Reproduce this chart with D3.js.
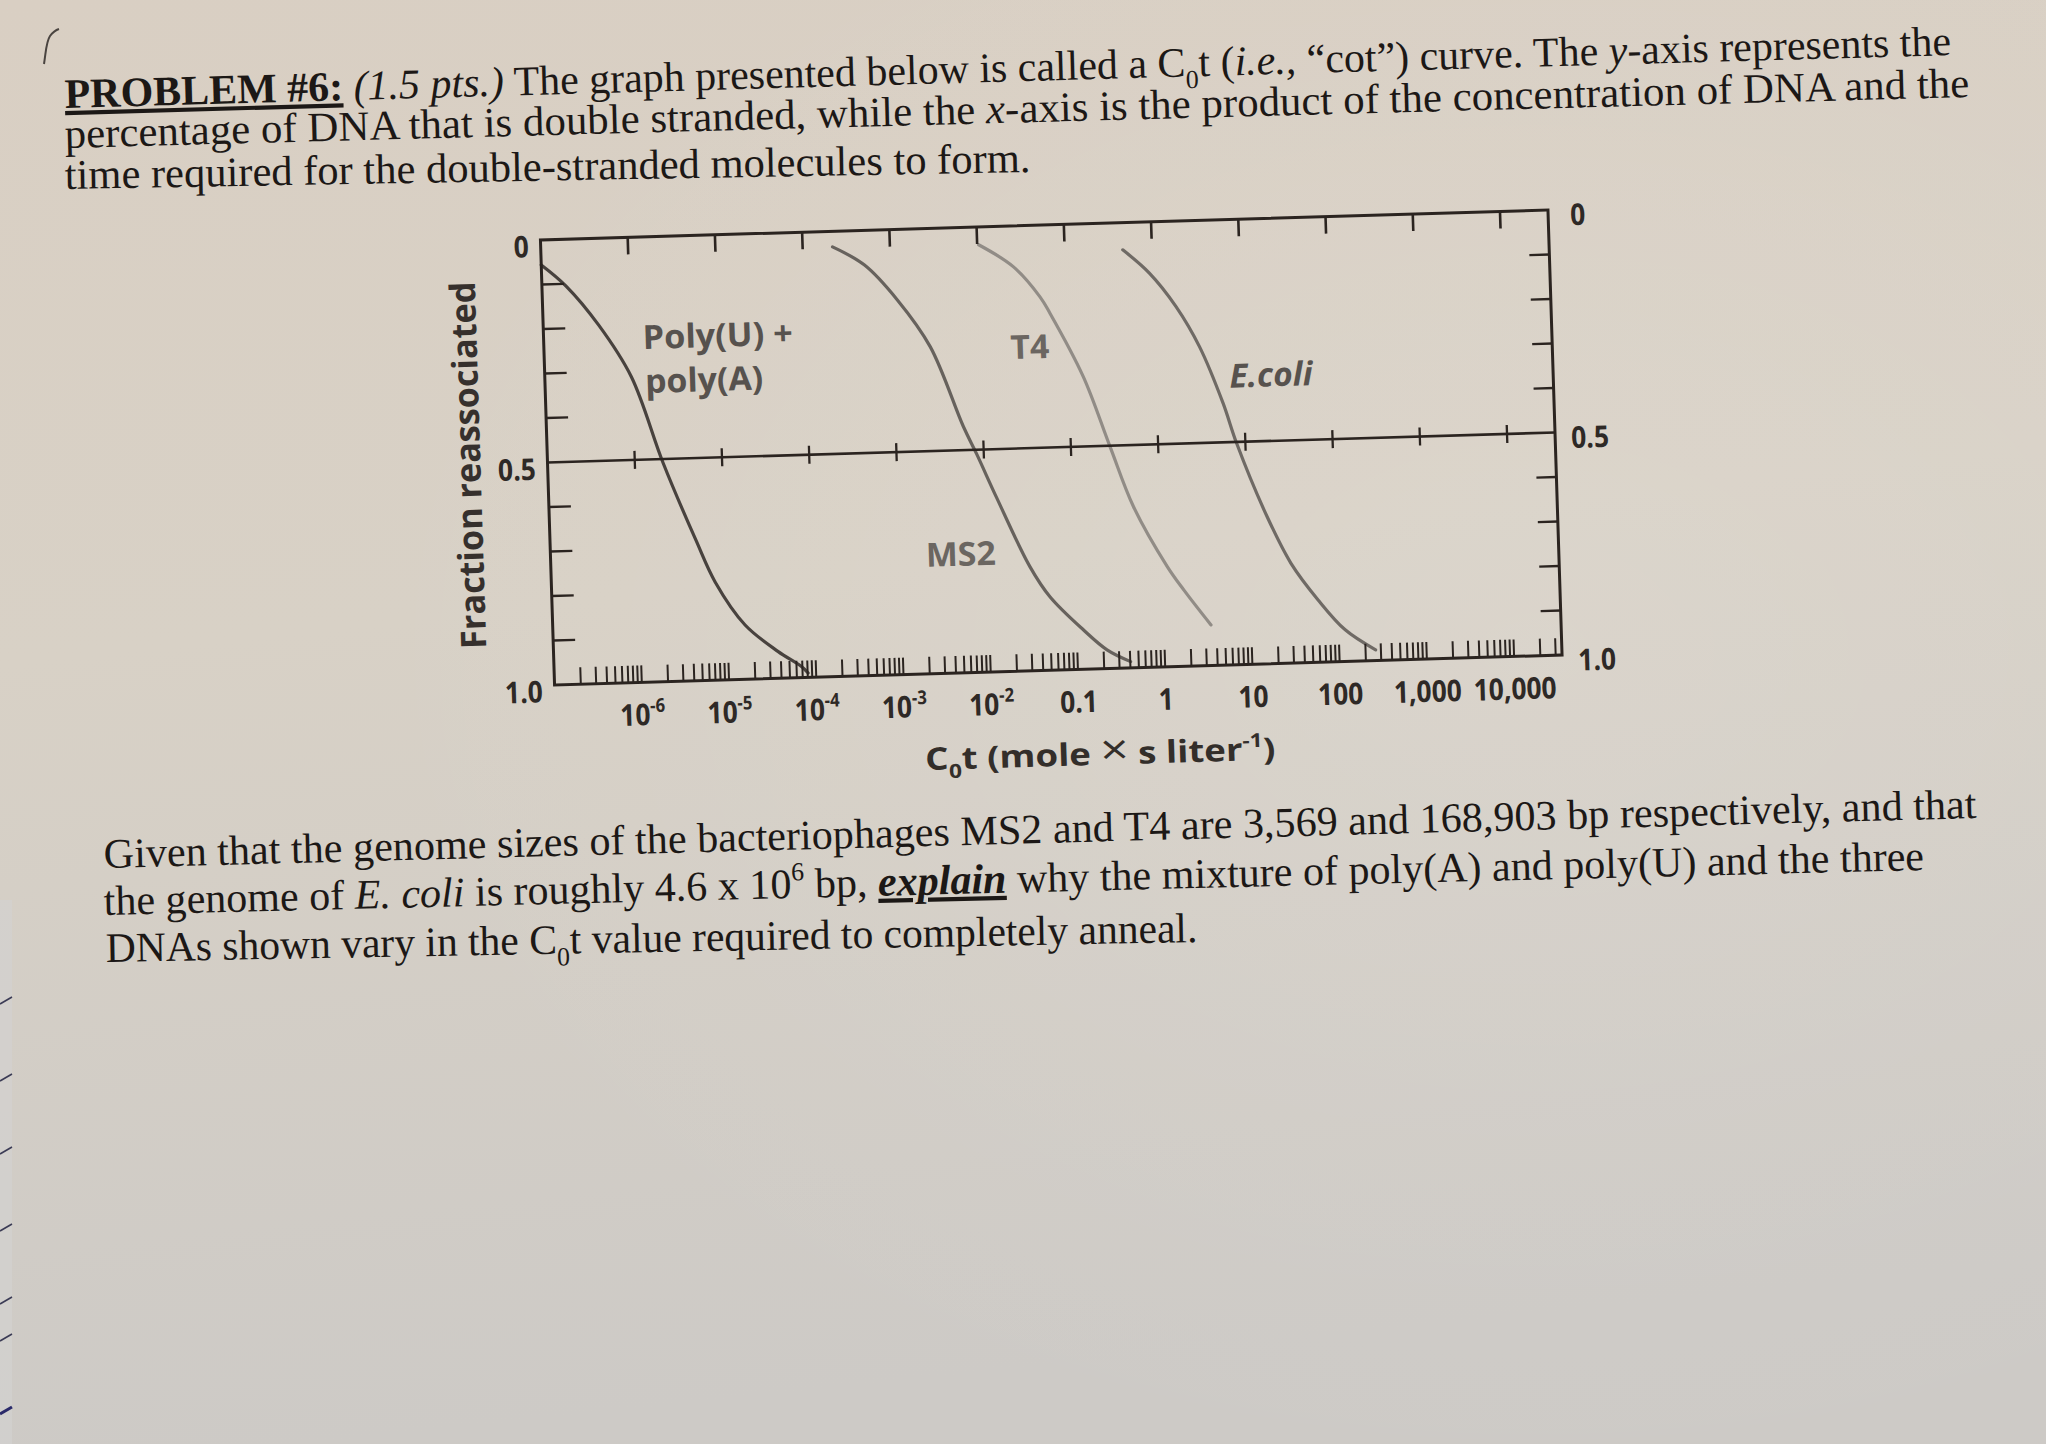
<!DOCTYPE html>
<html><head><meta charset="utf-8">
<script src="https://cdn.jsdelivr.net/npm/d3@7"></script>
<style>html,body{margin:0;padding:0;background:#d5cfc6;} svg{display:block}</style>
</head><body>
<svg id="page" width="2046" height="1444"></svg>
<script>
// ---------------- DATA ----------------
const xDomainExp = [-7, 4.55];                 // log10 limits of the Cot axis
const xTickValues = [1e-6,1e-5,1e-4,1e-3,1e-2,0.1,1,10,100,1000,10000];
const xTickBase   = ["10","10","10","10","10","0.1","1","10","100","1,000","10,000"];
const xTickSup    = ["-6","-5","-4","-3","-2","","","","","",""];
const yMinorTicks = [0.1,0.2,0.3,0.4,0.6,0.7,0.8,0.9];
const yLabelValues = [0, 0.5, 1];
const yLabelTexts  = ["0", "0.5", "1.0"];

const polyCot  = [1.0e-7, 1.89e-7, 4.33e-7, 9.8e-7, 2.12e-6, 4.71e-6, 7.55e-6, 1.6e-5, 3.75e-5, 6.84e-5, 8.1e-5];
const polyFrac = [0.056, 0.105, 0.195, 0.313, 0.51, 0.685, 0.78, 0.878, 0.94, 0.975, 0.99];

const ms2Cot   = [2.2e-4, 5.04e-4, 1.17e-3, 2.67e-3, 5.97e-3, 8.3e-3, 1.36e-2, 3.07e-2, 5.08e-2, 0.12, 0.219, 0.404];
const ms2Frac  = [0.035, 0.078, 0.159, 0.266, 0.447, 0.51, 0.61, 0.766, 0.835, 0.912, 0.958, 0.986];

const t4Cot    = [1.04e-2, 2.56e-2, 5.02e-2, 6.46e-2, 0.147, 0.281, 0.495, 1.15, 1.75, 3.47];
const t4Frac   = [0.04, 0.092, 0.161, 0.199, 0.343, 0.502, 0.638, 0.775, 0.829, 0.909];

const ecoliCot  = [0.463, 0.916, 1.80, 3.24, 5.74, 7.94, 16.7, 30.1, 59.7, 119, 261];
const ecoliFrac = [0.061, 0.115, 0.192, 0.284, 0.412, 0.503, 0.670, 0.776, 0.860, 0.929, 0.976];

const seriesNames  = ["Poly(U) + poly(A)", "MS2", "T4", "E.coli"];
const seriesColors = ["#48423e", "#67625d", "#918c86", "#6f6a65"];

// ---------------- PAGE ----------------
const svg = d3.select("#page");
const defs = svg.append("defs");
const grad = defs.append("linearGradient").attr("id","paper").attr("x1",0).attr("y1",0).attr("x2",0.15).attr("y2",1);
grad.append("stop").attr("offset","0%").attr("stop-color","#d9cfc3");
grad.append("stop").attr("offset","45%").attr("stop-color","#d8d1c6");
grad.append("stop").attr("offset","100%").attr("stop-color","#cdcac6");
svg.append("rect").attr("width",2046).attr("height",1444).attr("fill","url(#paper)");
const grad2 = defs.append("radialGradient").attr("id","glow").attr("cx",0.75).attr("cy",0.45).attr("r",0.6);
grad2.append("stop").attr("offset","0%").attr("stop-color","#fff").attr("stop-opacity",0.10);
grad2.append("stop").attr("offset","100%").attr("stop-color","#fff").attr("stop-opacity",0);
svg.append("rect").attr("width",2046).attr("height",1444).attr("fill","url(#glow)");

// left page edge strip with pen marks from the page underneath
svg.append("rect").attr("x",0).attr("y",900).attr("width",12).attr("height",544).attr("fill","#d3d2d0").attr("opacity",0.7);
[1000,1077,1150,1227,1300,1337,1410].forEach((yy,i)=>{
  svg.append("line").attr("x1",0).attr("y1",yy+4).attr("x2",12).attr("y2",yy-3)
    .attr("stroke", i===6 ? "#2a2a6a" : "#3b3b55").attr("stroke-width", i===6?3:1.6);
});
// small mark top-left
svg.append("path").attr("d","M44,64 C46,52 46,42 50,36 C53,32 56,30 59,29")
  .attr("fill","none").attr("stroke","#4a4440").attr("stroke-width",2);

// rich text helper
function richText(sel, segs, size){
  let shift = 0;
  segs.forEach(([t, st]) => {
    const f = (st||"").split(" ");
    const ts = sel.append("tspan").text(t);
    let target = 0;
    if (f.includes("sub")) target = size*0.28;
    if (f.includes("sup")) target = -size*0.42;
    if (target !== shift){ ts.attr("dy", target - shift); shift = target; }
    if (f.includes("sub") || f.includes("sup")) ts.attr("font-size", size*0.62);
    if (f.includes("big")) ts.attr("font-size", size*1.35).attr("font-weight","normal");
    if (f.includes("bold")) ts.attr("font-weight","bold");
    if (f.includes("ital")) ts.attr("font-style","italic");
    if (f.includes("ul")) ts.attr("text-decoration","underline");
    if (f.includes("sc")) ts.style("font-variant","small-caps");
  });
}
function placeLine(parent, segs, x0, y0, x1, y1, size, family, fill){
  const t = parent.append("text").attr("font-family", family).attr("font-size", size).attr("fill", fill);
  richText(t, segs, size);
  const w = t.node().getComputedTextLength();
  const L = Math.hypot(x1-x0, y1-y0);
  const ang = Math.atan2(y1-y0, x1-x0)*180/Math.PI;
  t.attr("transform", `translate(${x0},${y0}) rotate(${ang}) scale(${L/w},1)`);
  return t;
}

const serif = "'Liberation Serif','Times New Roman',serif";
const ink = "#1c1816";
const pageLines = [
  { segs: [["PROBLEM #6:","bold sc ul"],[" ",""],["(1.5 pts.)","ital"],[" The graph presented below is called a C",""],["0","sub"],["t (",""],["i.e.,","ital"],[" \u201ccot\u201d) curve. The ",""],["y","ital"],["-axis represents the",""]],
    p: [65,108,1952,55] },
  { segs: [["percentage of DNA that is double stranded, while the ",""],["x","ital"],["-axis is the product of the concentration of DNA and the",""]],
    p: [65,148,1970,97] },
  { segs: [["time required for the double-stranded molecules to form.",""]],
    p: [65,189,1031,172] },
  { segs: [["Given that the genome sizes of the bacteriophages MS2 and T4 are 3,569 and 168,903 bp respectively, and that",""]],
    p: [104,868,1977,818] },
  { segs: [["the genome of ",""],["E. coli","ital"],[" is roughly 4.6 x 10",""],["6","sup"],[" bp, ",""],["explain","bold ital ul"],[" why the mixture of poly(A) and poly(U) and the three",""]],
    p: [104,915,1925,870] },
  { segs: [["DNAs shown vary in the C",""],["0","sub"],["t value required to completely anneal.",""]],
    p: [106,962,1198,942] }
];
pageLines.forEach(l => placeLine(svg, l.segs, l.p[0], l.p[1], l.p[2], l.p[3], 42, serif, ink));

// ---------------- CHART ----------------
const W = 1007.5, H = 445;
const chart = svg.append("g").attr("transform","matrix(1,-0.02978,0.03169,1,540.45,240)");
const x = d3.scaleLog().domain([Math.pow(10,xDomainExp[0]), Math.pow(10,xDomainExp[1])]).range([0, W]);
const y = d3.scaleLinear().domain([0,1]).range([0, H]);
const frame = "#2b2420";
const sans = "'Open Sans','Noto Sans',sans-serif";

// curves
const series = [[polyCot,polyFrac],[ms2Cot,ms2Frac],[t4Cot,t4Frac],[ecoliCot,ecoliFrac]];
const line = d3.line().x(d=>x(d[0])).y(d=>y(d[1])).curve(d3.curveCatmullRom.alpha(0.5));
series.forEach(([cx, fy], i) => {
  chart.append("path").datum(d3.zip(cx, fy)).attr("d", line)
    .attr("fill","none").attr("stroke", seriesColors[i]).attr("stroke-width", 3.2)
    .attr("stroke-linecap","round");
});

// frame and mid line
chart.append("rect").attr("x",0).attr("y",0).attr("width",W).attr("height",H)
  .attr("fill","none").attr("stroke",frame).attr("stroke-width",3);
chart.append("line").attr("x1",0).attr("x2",W).attr("y1",y(0.5)).attr("y2",y(0.5))
  .attr("stroke",frame).attr("stroke-width",2.6);

// top decade ticks (inward)
chart.append("g").selectAll("line").data(xTickValues).join("line")
  .attr("x1",d=>x(d)).attr("x2",d=>x(d)).attr("y1",0).attr("y2",17)
  .attr("stroke",frame).attr("stroke-width",2.6);
// decade ticks crossing the 0.5 line
chart.append("g").selectAll("line").data(xTickValues).join("line")
  .attr("x1",d=>x(d)).attr("x2",d=>x(d)).attr("y1",y(0.5)-9).attr("y2",y(0.5)+9)
  .attr("stroke",frame).attr("stroke-width",2.3);
// bottom minor log ticks (2..10 in each decade)
const minor = [];
for (let k = Math.floor(xDomainExp[0]); k <= Math.ceil(xDomainExp[1]); k++)
  for (let d = 2; d <= 10; d++){ const v = d*Math.pow(10,k); if (v > x.domain()[0] && v < x.domain()[1]) minor.push(v); }
chart.append("g").selectAll("line").data(minor).join("line")
  .attr("x1",d=>x(d)).attr("x2",d=>x(d)).attr("y1",H).attr("y2",H-17)
  .attr("stroke",frame).attr("stroke-width",2);
// left and right minor y ticks
chart.append("g").selectAll("line").data(yMinorTicks).join("line")
  .attr("x1",0).attr("x2",22).attr("y1",d=>y(d)).attr("y2",d=>y(d))
  .attr("stroke",frame).attr("stroke-width",2.4);
chart.append("g").selectAll("line").data(yMinorTicks).join("line")
  .attr("x1",W).attr("x2",W-20).attr("y1",d=>y(d)).attr("y2",d=>y(d))
  .attr("stroke",frame).attr("stroke-width",2.4);

// axis labels
const tickInk = "#2e2926";
function tickText(px, py, anchor){
  return chart.append("text").attr("text-anchor",anchor)
    .attr("font-family",sans).attr("font-weight","bold").attr("font-size",30).attr("fill",tickInk)
    .attr("transform",`translate(${px},${py}) scale(0.88,1)`);
}
yLabelValues.forEach((v,i) => {
  tickText(-12, y(v)+17, "end").text(yLabelTexts[i]);
  tickText(W + (i===0?22:16), y(v)+16, "start").text(yLabelTexts[i]);
});
xTickValues.forEach((v,i) => {
  const t = tickText(x(v), H+43, "middle");
  t.append("tspan").text(xTickBase[i]);
  if (xTickSup[i]) t.append("tspan").attr("dy",-13).attr("font-size",19).text(xTickSup[i]);
});

function chartLabel(segs, px, py, width, opts){
  const t = chart.append("text").attr("font-family",sans).attr("font-weight","bold")
    .attr("font-size",opts.size).attr("fill",opts.fill);
  if (opts.italic) t.attr("font-style","italic");
  if (opts.anchor) t.attr("text-anchor",opts.anchor);
  richText(t, segs, opts.size);
  const w = t.node().getComputedTextLength();
  t.attr("transform", `translate(${px},${py}) ${opts.rot?`rotate(${opts.rot})`:""} scale(${width/w},1)`);
}
// x-axis title
chartLabel([["C",""],["0","sub"],["t (mole ",""],["\u00d7","big"],[" s liter",""],["-1","sup"],[")",""]], 543, 541, 350,
  {size:31, fill:"#332e2a", anchor:"middle"});
// y-axis title
chartLabel([["Fraction reassociated",""]], -67, 223, 367, {size:35, fill:"#36302d", anchor:"middle", rot:-90});

// curve labels
const labFill = "#57524e";
chartLabel([["Poly(U) +",""]], 99, 112, 150, {size:33, fill:labFill});
chartLabel([["poly(A)",""]], 100, 156, 118, {size:33, fill:labFill});
chartLabel([["T4",""]], 466, 133, 39, {size:33, fill:"#6b6661"});
chartLabel([["MS2",""]], 375, 338, 70, {size:33, fill:"#6b6661"});
chartLabel([["E.coli",""]], 684, 168, 83, {size:33, fill:labFill, italic:true});
</script>
</body></html>
